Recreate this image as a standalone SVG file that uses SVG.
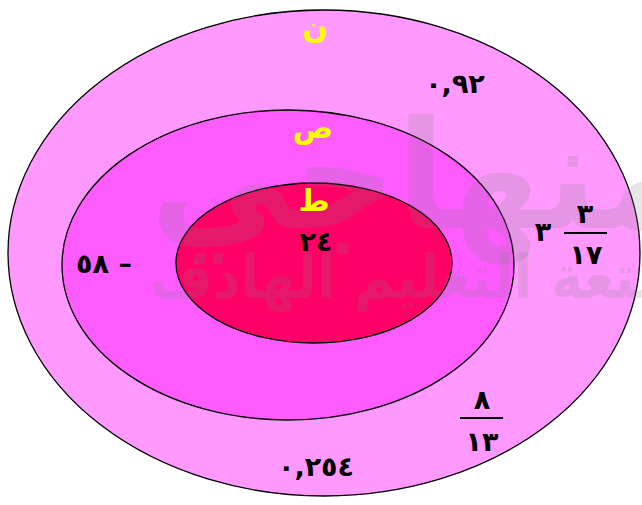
<svg xmlns="http://www.w3.org/2000/svg" width="642" height="505" viewBox="0 0 642 505">
<style>
.ring{stroke:#000;stroke-width:1.3}
.lbl{font-family:"DejaVu Sans",sans-serif;font-weight:bold;font-size:30px;fill:#FFFF00;text-anchor:middle}
.num{font-family:"DejaVu Sans",sans-serif;font-weight:bold;font-size:27px;fill:#000;text-anchor:middle;direction:ltr;unicode-bidi:bidi-override}
.bar{stroke:#000;stroke-width:2}
.wm{font-family:"DejaVu Sans",sans-serif;font-weight:bold;fill:#808080;opacity:0.19}
</style>
<rect width="642" height="505" fill="#fff"/>
<g id="set-N">
<ellipse class="ring" cx="324" cy="253" rx="316" ry="243" fill="#FF99FF"/>
</g>
<g id="set-S">
<ellipse class="ring" cx="288" cy="265" rx="226" ry="155" fill="#FF5CFF"/>
</g>
<g id="set-T">
<ellipse class="ring" cx="314" cy="263" rx="138" ry="80" fill="#FF0066"/>
</g>
<g id="watermark">
<text class="wm" x="150" y="228" font-size="150" textLength="540" lengthAdjust="spacingAndGlyphs">منهاجي</text>
<text class="wm" x="150" y="298" font-size="60" textLength="520" lengthAdjust="spacingAndGlyphs">متعة التعليم الهادف</text>
</g>
<g id="labels">
<text class="lbl" x="315" y="38">ن</text>
<text class="lbl" x="313" y="138">ص</text>
<text class="lbl" x="314" y="211">ط</text>
</g>
<g id="elements">
<text class="num" x="455" y="93">٠,٩٢</text>
<text class="num" x="316" y="251">٢٤</text>
<text class="num" x="104" y="273">٥٨ –</text>
<text class="num" x="316" y="476">٠,٢٥٤</text>
<text class="num" x="543" y="241">٣</text>
<text class="num" x="585" y="223">٣</text>
<line class="bar" x1="564" y1="233" x2="607" y2="233"/>
<text class="num" x="586" y="264">١٧</text>
<text class="num" x="482" y="409">٨</text>
<line class="bar" x1="460" y1="418" x2="503" y2="418"/>
<text class="num" x="482" y="451">١٣</text>
</g>
</svg>
